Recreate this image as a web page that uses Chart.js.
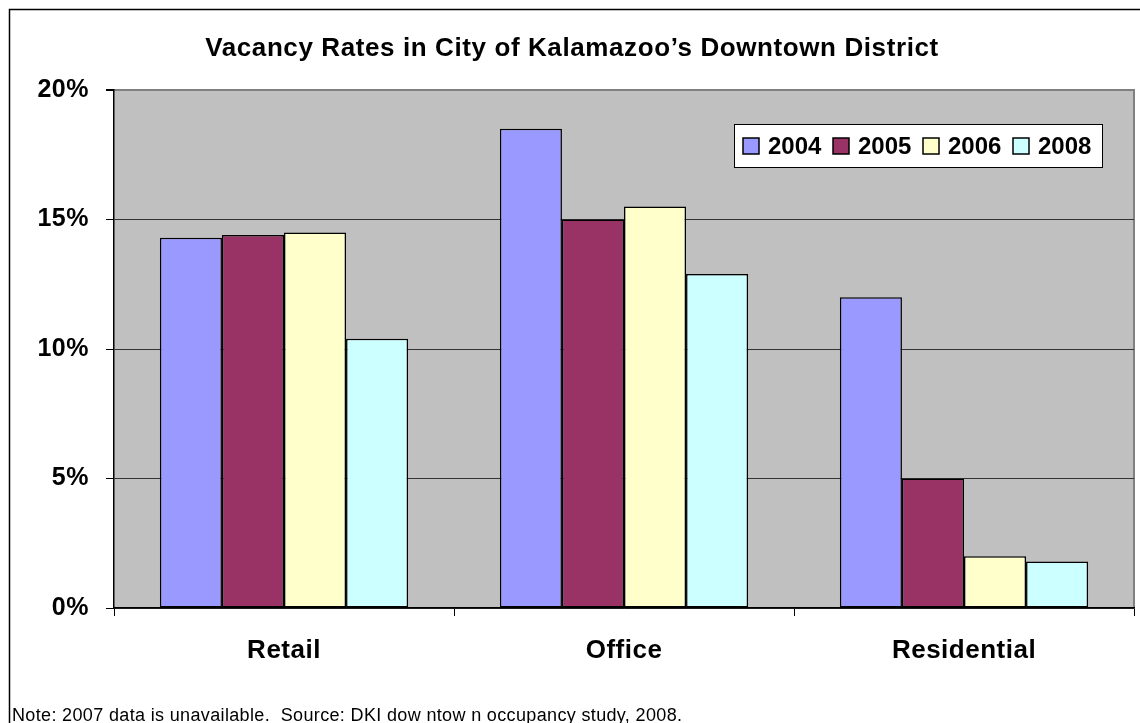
<!DOCTYPE html>
<html>
<head>
<meta charset="utf-8">
<script src="https://cdn.jsdelivr.net/npm/chart.js@4"></script>
<style>
html,body{margin:0;padding:0;background:#fff;}
#wrap{width:1140px;height:723px;position:relative;}
</style>
</head>
<body>
<div id="wrap"><canvas id="c" width="1140" height="723"></canvas></div>
<script>
const categories = ['Retail', 'Office', 'Residential'];
const seriesNames = ['2004', '2005', '2006', '2008'];
const v2004 = [14.3, 18.5, 12.0];
const v2005 = [14.4, 15.0, 5.0];
const v2006 = [14.5, 15.5, 2.0];
const v2008 = [10.4, 12.9, 1.8];
const yTicks = [0, 5, 10, 15, 20];
const titleText = 'Vacancy Rates in City of Kalamazoo’s Downtown District';
const noteText = 'Note: 2007 data is unavailable.  Source: DKI dow ntow n occupancy study, 2008.';

const colors = ['#9999FF', '#993366', '#FFFFCC', '#CCFFFF'];
const FONT = '"Liberation Sans", Arial, sans-serif';

const decor = {
  id: 'decor',
  beforeDraw(chart) {
    const {ctx, chartArea: a} = chart;
    ctx.save();
    ctx.fillStyle = '#fff';
    ctx.fillRect(0, 0, chart.width, chart.height);
    ctx.fillStyle = '#C0C0C0';
    ctx.fillRect(a.left, a.top, a.right - a.left, a.bottom - a.top);
    ctx.strokeStyle = '#808080';
    ctx.lineWidth = 2;
    ctx.beginPath();
    ctx.moveTo(a.left, a.top);
    ctx.lineTo(a.right, a.top);
    ctx.lineTo(a.right, a.bottom);
    ctx.stroke();
    ctx.restore();
    // reference axis text is slightly wide
    ctx.letterSpacing = '0.5px';
  },
  beforeDatasetsDraw(chart) {
    chart.ctx.letterSpacing = '0px';
  },
  afterDraw(chart) {
    const {ctx} = chart;
    ctx.save();
    ctx.letterSpacing = '0px';
    // outer frame
    ctx.strokeStyle = '#000';
    ctx.lineWidth = 1.5;
    ctx.strokeRect(9.5, 9.5, 1200, 800);
    // title
    ctx.fillStyle = '#000';
    ctx.font = 'bold 26px ' + FONT;
    ctx.letterSpacing = '0.6px';
    ctx.textAlign = 'center';
    ctx.textBaseline = 'alphabetic';
    ctx.fillText(titleText, 572, 56);
    // note
    ctx.font = '18px ' + FONT;
    ctx.letterSpacing = '0.35px';
    ctx.textAlign = 'left';
    ctx.fillText(noteText, 12, 721);
    ctx.letterSpacing = '0px';
    // legend
    const lx = 734, ly = 124, lw = 368, lh = 43;
    ctx.fillStyle = '#fff';
    ctx.fillRect(lx, ly, lw, lh);
    ctx.strokeStyle = '#000';
    ctx.lineWidth = 1;
    ctx.strokeRect(lx + 0.5, ly + 0.5, lw, lh);
    ctx.font = 'bold 24px ' + FONT;
    ctx.textBaseline = 'middle';
    chart.data.datasets.forEach((ds, i) => {
      const sx = 743 + i * 90;
      ctx.fillStyle = ds.backgroundColor;
      ctx.fillRect(sx, 138, 16, 16);
      ctx.strokeStyle = '#000';
      ctx.lineWidth = 1.5;
      ctx.strokeRect(sx, 138, 16, 16);
      ctx.fillStyle = '#000';
      ctx.fillText(ds.label, sx + 25, 147);
    });
    ctx.restore();
  }
};

const seriesValues = [v2004, v2005, v2006, v2008];
new Chart(document.getElementById('c'), {
  type: 'bar',
  data: {
    labels: categories,
    datasets: seriesNames.map((n, i) => ({
      label: n,
      data: seriesValues[i],
      backgroundColor: colors[i],
      borderColor: '#000',
      borderWidth: 1.5,
      borderSkipped: false,
      categoryPercentage: 0.73,
      barPercentage: 1.0
    }))
  },
  options: {
    responsive: false,
    animation: false,
    devicePixelRatio: 1,
    layout: {padding: {left: 14, top: 90, right: 6, bottom: 55}},
    plugins: {legend: {display: false}, title: {display: false}, tooltip: {enabled: false}},
    scales: {
      x: {
        afterFit(s) { s.height = 60; },
        grid: {offset: true, drawOnChartArea: false, drawTicks: true, tickLength: 8, color: '#000'},
        border: {color: '#000', width: 1.5},
        ticks: {color: '#000', font: {family: FONT, size: 26, weight: 'bold'}, padding: 19, maxRotation: 0}
      },
      y: {
        min: 0, max: 20,
        afterFit(s) { s.width = 100; },
        afterBuildTicks(s) { s.ticks = yTicks.map(v => ({value: v})); },
        grid: {
          color: (c) => (c.tick && c.tick.value === 20) ? '#808080' : '#333',
          tickColor: '#000',
          lineWidth: (c) => (c.tick && c.tick.value === 20) ? 2 : 1,
          tickLength: 8
        },
        border: {color: '#000', width: 1.5},
        ticks: {color: '#000', font: {family: FONT, size: 25, weight: 'bold'}, padding: 17,
          callback: (v) => v + '%'}
      }
    }
  },
  plugins: [decor]
});
</script>
</body>
</html>
